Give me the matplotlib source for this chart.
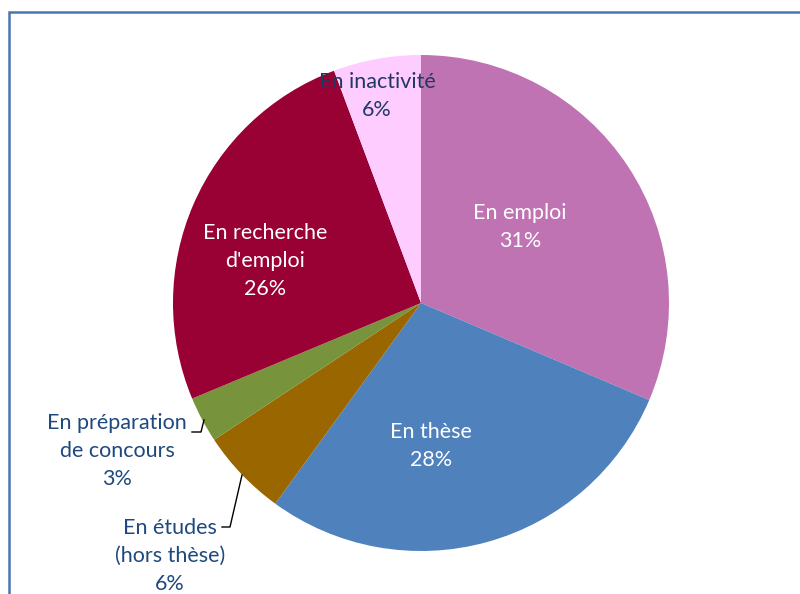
"""
Pie chart: situation des diplômés
"""

import numpy as np
from matplotlib import pyplot as plt

categories = ["En emploi", "En thèse", "En études\n(hors thèse)",
              "En préparation\nde concours", "En recherche\nd'emploi", "En inactivité"]
values = [31.4, 28.6, 5.7, 3.0, 25.6, 5.7]
pct_labels = ["31%", "28%", "6%", "3%", "26%", "6%"]

colors = ["#bf73b3", "#4f81bd", "#996600", "#77933c", "#990033", "#ffccff"]
text_colors = ["white", "white", "#1f497d", "#1f497d", "white", "#1f3864"]

# label centres in pixel coords (origin bottom-left)
W, H = 800, 594
label_pos = [(520, H - 227), (431, H - 446), (170, H - 556),
             (117, H - 451), (265, H - 261), (377, H - 96)]

plt.rcParams['font.family'] = ['Lato', 'DejaVu Sans']

fig = plt.figure(figsize=(W / 100, H / 100), dpi=100)
ax = fig.add_axes([0, 0, 1, 1])

center = (421, H - 303)
radius = 248
ax.pie(values, colors=colors, startangle=90, counterclock=False,
       center=center, radius=radius, wedgeprops=dict(linewidth=0))

for cat, pct, pos, tc in zip(categories, pct_labels, label_pos, text_colors):
    ax.text(pos[0], pos[1], cat + "\n" + pct, ha="center", va="center",
            multialignment="center", color=tc, fontsize=15.5, linespacing=1.5)

# leader lines for small outside labels
ax.plot([192, 201, 204], [H - 432, H - 432, H - 420], color="black", lw=1)
ax.plot([222, 230, 242], [H - 527, H - 527, H - 475], color="black", lw=1)

# chart frame (only top and left visible)
ax.plot([9, 9, W], [0, H - 12, H - 12], color="#4a76b0", lw=1.8, solid_joinstyle="miter")

ax.set_xlim(0, W)
ax.set_ylim(0, H)
ax.set_aspect("equal")
ax.axis("off")

fig.savefig("out.png", dpi=100)
